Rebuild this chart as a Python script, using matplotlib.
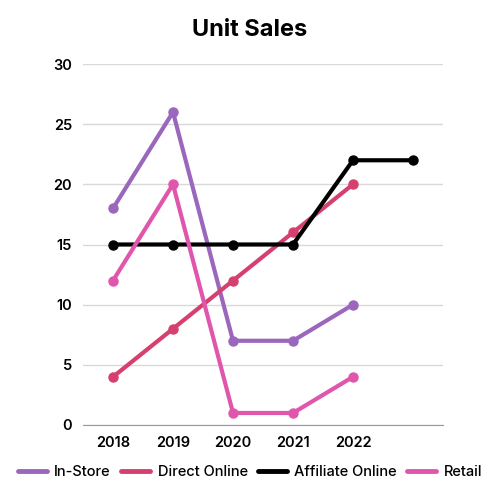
import matplotlib.pyplot as plt

plt.rcParams['font.family'] = ['Inter', 'DejaVu Sans']

years = ['2018', '2019', '2020', '2021', '2022', '']
in_store = [18, 26, 7, 7, 10]
direct_online = [4, 8, 12, 16, 20]
affiliate_online = [15, 15, 15, 15, 22, 22]
retail = [12, 20, 1, 1, 4]

series = [
    ('In-Store', in_store, '#9b67bd'),
    ('Direct Online', direct_online, '#d6406f'),
    ('Affiliate Online', affiliate_online, '#000000'),
    ('Retail', retail, '#e156ad'),
]

fig = plt.figure(figsize=(5, 5), dpi=100)
ax = fig.add_axes([0.166, 0.15, 0.72, 0.722])

for name, vals, col in series:
    ax.plot(range(len(vals)), vals, color=col, lw=3, marker='o', ms=6.5,
            label=name, solid_capstyle='round')

ax.set_xlim(-0.5, 5.5)
ax.set_ylim(0, 30)
ax.set_xticks(range(len(years)))
ax.set_xticklabels(years)
ax.set_yticks(range(0, 31, 5))
ax.grid(axis='y', color='#d9d9d9', lw=1)
ax.set_axisbelow(True)
for s in ['top', 'right', 'left']:
    ax.spines[s].set_visible(False)
ax.spines['bottom'].set_color('#999999')
ax.tick_params(length=0, labelsize=10.5)
ax.tick_params(axis='x', pad=8)
ax.tick_params(axis='y', pad=8)
for lab in ax.get_xticklabels() + ax.get_yticklabels():
    lab.set_fontweight('semibold')

fig.text(0.5, 0.94, 'Unit Sales', ha='center', va='center',
         fontsize=17, fontweight='bold')

leg = fig.legend(*ax.get_legend_handles_labels(), loc='center', bbox_to_anchor=(0.5, 0.055),
                 ncol=4, frameon=False, fontsize=10.5, handlelength=2.0,
                 handletextpad=0.5, columnspacing=0.7, prop={'weight': 'medium', 'size': 10.5})
for l in leg.get_lines():
    l.set_marker('')
    l.set_linewidth(3.5)

fig.savefig('out.png', dpi=100)
